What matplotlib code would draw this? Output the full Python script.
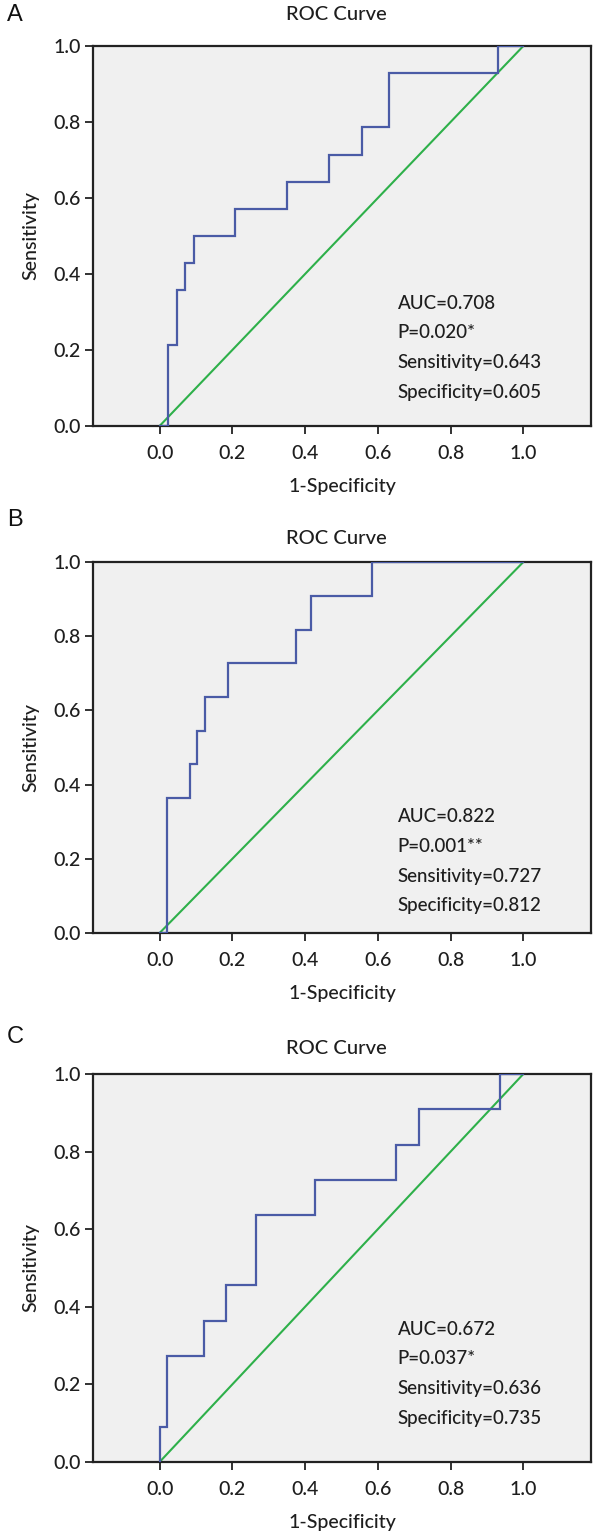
import matplotlib
matplotlib.use("Agg")
import matplotlib.pyplot as plt

# ---- data ----
panel_letters = ["A", "B", "C"]

a_fpr = [0.0, 0.022, 0.022, 0.047, 0.047, 0.071, 0.071, 0.094, 0.094, 0.208, 0.208, 0.35, 0.35, 0.466, 0.466, 0.557, 0.557, 0.630, 0.630, 0.929, 0.929, 1.0]
a_tpr = [0.0, 0.0, 0.214, 0.214, 0.357, 0.357, 0.429, 0.429, 0.5, 0.5, 0.571, 0.571, 0.643, 0.643, 0.714, 0.714, 0.786, 0.786, 0.929, 0.929, 1.0, 1.0]

b_fpr = [0.0, 0.020, 0.020, 0.083, 0.083, 0.103, 0.103, 0.125, 0.125, 0.187, 0.187, 0.374, 0.374, 0.416, 0.416, 0.583, 0.583, 1.0]
b_tpr = [0.0, 0.0, 0.364, 0.364, 0.455, 0.455, 0.545, 0.545, 0.636, 0.636, 0.727, 0.727, 0.818, 0.818, 0.909, 0.909, 1.0, 1.0]

c_fpr = [0.0, 0.0, 0.020, 0.020, 0.121, 0.121, 0.183, 0.183, 0.265, 0.265, 0.428, 0.428, 0.650, 0.650, 0.712, 0.712, 0.937, 0.937, 1.0]
c_tpr = [0.0, 0.091, 0.091, 0.273, 0.273, 0.364, 0.364, 0.455, 0.455, 0.636, 0.636, 0.727, 0.727, 0.818, 0.818, 0.909, 0.909, 1.0, 1.0]

ref_line = [0.0, 1.0]

a_stats = ["AUC=0.708", "P=0.020*", "Sensitivity=0.643", "Specificity=0.605"]
b_stats = ["AUC=0.822", "P=0.001**", "Sensitivity=0.727", "Specificity=0.812"]
c_stats = ["AUC=0.672", "P=0.037*", "Sensitivity=0.636", "Specificity=0.735"]

tick_values = [0.0, 0.2, 0.4, 0.6, 0.8, 1.0]
tick_labels = ["0.0", "0.2", "0.4", "0.6", "0.8", "1.0"]

title_text = "ROC Curve"
xlabel_text = "1-Specificity"
ylabel_text = "Sensitivity"

# ---- layout (pixels) ----
W, H = 600, 1532
FONT = ["Lato", "DejaVu Sans"]
WEIGHT = "medium"
LETTER_FONT = ["Liberation Sans", "DejaVu Sans"]
BLUE = "#4a5ba6"
GREEN = "#2eb04a"
BG = "#f0f0f0"
SPINE = "#222222"
TXT = "#1e1e1e"

# (axes top px, axes bottom px, title y px, letter y px, stats top y data)
panels = [
    (46, 426, 15, 15, 0.323, a_fpr, a_tpr, a_stats),
    (562, 933, 538, 520, 0.313, b_fpr, b_tpr, b_stats),
    (1074, 1462, 1048, 1037, 0.342, c_fpr, c_tpr, c_stats),
]
left_px, right_px = 93, 591

fig = plt.figure(figsize=(W / 100, H / 100), dpi=100)
fig.patch.set_facecolor("white")

for letter, (top, bot, ty, ly, sy, fpr, tpr, stats) in zip(panel_letters, panels):
    ax = fig.add_axes([left_px / W, 1 - bot / H, (right_px - left_px) / W, (bot - top) / H])
    ax.set_facecolor(BG)
    ax.plot(fpr, tpr, color=BLUE, lw=1.6, solid_joinstyle="miter", zorder=3)
    ax.plot(ref_line, ref_line, color=GREEN, lw=1.5, zorder=2)
    ax.set_xlim(-0.183, 1.186)
    ax.set_ylim(0.0, 1.0)
    ax.set_xticks(tick_values)
    ax.set_xticklabels(tick_labels, fontfamily=FONT, fontweight=WEIGHT, fontsize=14)
    ax.set_yticks(tick_values)
    ax.set_yticklabels(tick_labels, fontfamily=FONT, fontweight=WEIGHT, fontsize=14)
    ax.tick_params(axis="x", direction="out", length=6, width=1.3, color=SPINE, pad=8, labelcolor=TXT)
    ax.tick_params(axis="y", direction="out", length=6, width=1.3, color=SPINE, pad=3, labelcolor=TXT)
    for s in ax.spines.values():
        s.set_color(SPINE)
        s.set_linewidth(1.6)
    ax.set_xlabel(xlabel_text, fontfamily=FONT, fontweight=WEIGHT, fontsize=14, color=TXT, labelpad=11)
    ax.set_ylabel(ylabel_text, fontfamily=FONT, fontweight=WEIGHT, fontsize=14, color=TXT, labelpad=10)
    for i, s in enumerate(stats):
        ax.text(0.655, sy - i * 0.078 * 380 / (bot - top), s, fontfamily=FONT, fontweight=WEIGHT,
                fontsize=13.5, color=TXT, va="center", ha="left")
    fig.text((left_px + right_px) / 2 / W - 0.01, 1 - ty / H, title_text, fontfamily=FONT,
             fontweight=WEIGHT, fontsize=14.5, color=TXT, ha="center", va="center")
    fig.text(7 / W, 1 - ly / H, letter, fontfamily=LETTER_FONT, fontsize=17,
             color="#111111", ha="left", va="center")

fig.savefig("out.png", dpi=100, facecolor="white")
